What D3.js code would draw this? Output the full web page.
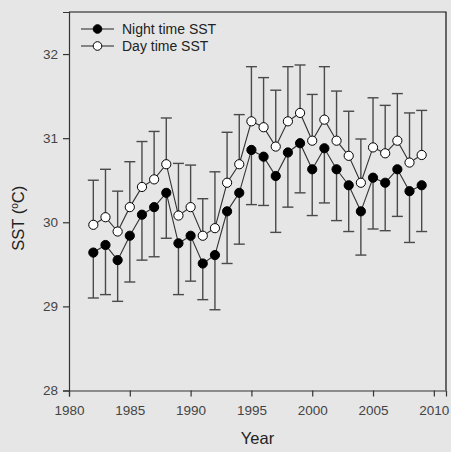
<!DOCTYPE html>
<html>
<head>
<meta charset="utf-8">
<script src="https://cdn.jsdelivr.net/npm/d3@7"></script>
<style>
  body { margin: 0; background: #e6e6e6; }
  svg { display: block; font-family: Arial, "Liberation Sans", sans-serif; }
</style>
</head>
<body>
<svg width="451" height="452"></svg>
<script>
// year, mean SST and error (night bar drawn down, day bar drawn up)
var years = [1982, 1983, 1984, 1985, 1986, 1987, 1988, 1989, 1990, 1991, 1992, 1993, 1994, 1995,
             1996, 1997, 1998, 1999, 2000, 2001, 2002, 2003, 2004, 2005, 2006, 2007, 2008, 2009];
var nightSST = [29.64, 29.73, 29.55, 29.84, 30.09, 30.18, 30.35, 29.75, 29.84, 29.51, 29.61, 30.13, 30.35, 30.86,
                30.78, 30.55, 30.83, 30.94, 30.63, 30.88, 30.63, 30.44, 30.13, 30.53, 30.47, 30.63, 30.37, 30.44];
var nightErr = [0.54, 0.59, 0.49, 0.55, 0.54, 0.59, 0.54, 0.61, 0.54, 0.43, 0.65, 0.62, 0.61, 0.65,
                0.58, 0.67, 0.65, 0.59, 0.55, 0.65, 0.61, 0.55, 0.52, 0.61, 0.57, 0.56, 0.61, 0.55];
var daySST = [29.97, 30.06, 29.89, 30.18, 30.42, 30.51, 30.69, 30.08, 30.18, 29.84, 29.93, 30.47, 30.69, 31.20,
              31.13, 30.90, 31.20, 31.30, 30.97, 31.22, 30.97, 30.79, 30.47, 30.89, 30.82, 30.97, 30.71, 30.80];
var dayErr = [0.53, 0.57, 0.48, 0.54, 0.54, 0.57, 0.55, 0.62, 0.50, 0.44, 0.67, 0.60, 0.59, 0.65,
              0.59, 0.67, 0.65, 0.57, 0.55, 0.63, 0.59, 0.53, 0.52, 0.59, 0.57, 0.56, 0.59, 0.53];
var xTicks = [1980, 1985, 1990, 1995, 2000, 2005, 2010];
var yTicks = [28, 29, 30, 31, 32];

var svg = d3.select("svg");
var pLeft = 69, pRight = 446, pTop = 12, pBottom = 390.5;

var x = d3.scaleLinear().domain([1980, 2011]).range([pLeft, pRight]);
var y = d3.scaleLinear().domain([28, 32.5]).range([pBottom, pTop]);

var night = years.map(function(d, i) { return {year: d, v: nightSST[i], e: nightErr[i]}; });
var day = years.map(function(d, i) { return {year: d, v: daySST[i], e: dayErr[i]}; });

// frame
svg.append("path")
    .attr("d", "M" + pLeft + "," + pTop + "H" + pRight + "V" + pBottom)
    .attr("fill", "none")
    .attr("stroke", "#111")
    .attr("stroke-width", 1.2);

var xAxis = svg.append("g")
    .attr("transform", "translate(0," + pBottom + ")")
    .call(d3.axisBottom(x).tickValues(xTicks).tickFormat(d3.format("d")).tickSizeOuter(0).tickSize(6).tickPadding(9));
var yAxis = svg.append("g")
    .attr("transform", "translate(" + pLeft + ",0)")
    .call(d3.axisLeft(y).tickValues(yTicks).tickFormat(d3.format("d")).tickSizeOuter(0).tickSize(6).tickPadding(5));

[xAxis, yAxis].forEach(function(a) {
  a.select(".domain").attr("stroke", "#333").attr("stroke-width", 1.2);
  a.selectAll(".tick line").attr("stroke", "#333").attr("stroke-width", 1.2);
  a.selectAll(".tick text").attr("fill", "#444").style("font-size", "13.5px")
      .style("font-family", "Arial, 'Liberation Sans', sans-serif");
});

// axis titles
svg.append("text")
    .attr("x", (pLeft + pRight) / 2)
    .attr("y", 444)
    .attr("text-anchor", "middle")
    .attr("fill", "#222")
    .style("font-size", "16.5px")
    .text("Year");

var yl = svg.append("text")
    .attr("transform", "translate(24," + (y(30) - 4) + ") rotate(-90)")
    .attr("text-anchor", "middle")
    .attr("fill", "#222")
    .style("font-size", "16.5px");
yl.append("tspan").text("SST (");
yl.append("tspan").attr("dy", -6).style("font-size", "10px").text("o");
yl.append("tspan").attr("dy", 6).text("C)");

var capW = 5.5;
var barColor = "#4a4a4a";

// error bars: night downward, day upward
function bars(data, dir, cls) {
  var g = svg.append("g").attr("class", cls);
  g.selectAll("line.v")
    .data(data)
    .enter().append("line")
      .attr("x1", function(d) { return x(d.year); })
      .attr("x2", function(d) { return x(d.year); })
      .attr("y1", function(d) { return y(d.v); })
      .attr("y2", function(d) { return y(d.v + dir * d.e); })
      .attr("stroke", barColor)
      .attr("stroke-width", 1.4);
  g.selectAll("line.c")
    .data(data)
    .enter().append("line")
      .attr("x1", function(d) { return x(d.year) - capW; })
      .attr("x2", function(d) { return x(d.year) + capW; })
      .attr("y1", function(d) { return y(d.v + dir * d.e); })
      .attr("y2", function(d) { return y(d.v + dir * d.e); })
      .attr("stroke", barColor)
      .attr("stroke-width", 1.4);
}
bars(night, -1, "nightbars");
bars(day, 1, "daybars");

var line = d3.line()
    .x(function(d) { return x(d.year); })
    .y(function(d) { return y(d.v); });

[night, day].forEach(function(data) {
  svg.append("path")
      .datum(data)
      .attr("d", line)
      .attr("fill", "none")
      .attr("stroke", "#333")
      .attr("stroke-width", 1.1);
});

var r = 4.6;
svg.append("g").selectAll("circle")
    .data(night)
    .enter().append("circle")
      .attr("cx", function(d) { return x(d.year); })
      .attr("cy", function(d) { return y(d.v); })
      .attr("r", r)
      .attr("fill", "#000")
      .attr("stroke", "#000");

svg.append("g").selectAll("circle")
    .data(day)
    .enter().append("circle")
      .attr("cx", function(d) { return x(d.year); })
      .attr("cy", function(d) { return y(d.v); })
      .attr("r", r)
      .attr("fill", "#fff")
      .attr("stroke", "#000")
      .attr("stroke-width", 1);

// legend
var legend = [{label: "Night time SST", fill: "#000", y: 29}, {label: "Day time SST", fill: "#fff", y: 46}];
var lg = svg.append("g").selectAll("g")
    .data(legend)
    .enter().append("g")
      .attr("transform", function(d) { return "translate(0," + d.y + ")"; });
lg.append("line")
    .attr("x1", 81).attr("x2", 114)
    .attr("stroke", "#222").attr("stroke-width", 1.2);
lg.append("circle")
    .attr("cx", 97.5).attr("r", 4.3)
    .attr("fill", function(d) { return d.fill; })
    .attr("stroke", "#000");
lg.append("text")
    .attr("x", 122)
    .attr("dy", "0.35em")
    .attr("fill", "#222")
    .style("font-size", "14px")
    .text(function(d) { return d.label; });
</script>
</body>
</html>
